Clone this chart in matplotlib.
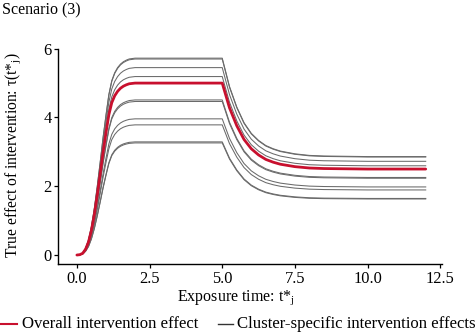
import matplotlib
matplotlib.use("Agg")
import matplotlib.pyplot as plt
from matplotlib.lines import Line2D
import numpy as np

plt.rcParams['font.family'] = ['Liberation Serif', 'DejaVu Serif']
plt.rcParams['mathtext.fontset'] = 'custom'
plt.rcParams['mathtext.rm'] = 'Liberation Serif'
plt.rcParams['mathtext.it'] = 'Liberation Serif:italic'
plt.rcParams['mathtext.default'] = 'regular'

# exposure time and overall intervention effect
exposure_time = [0, 0.1, 0.2, 0.3, 0.4, 0.5, 0.6, 0.7, 0.8, 0.9, 1.0, 1.1, 1.2,
                 1.3, 1.4, 1.5, 1.6, 1.7, 1.8, 2.0, 2.5, 3.0, 4.0, 5.0, 5.25,
                 5.5, 5.75, 6.0, 6.25, 6.5, 6.75, 7.0, 7.5, 8.0, 8.5, 9.0, 10.0,
                 11.0, 12.0]
overall_effect = [0, 0.01, 0.05, 0.17, 0.38, 0.72, 1.18, 1.74, 2.35, 2.98, 3.55,
                  4.08, 4.43, 4.63, 4.76, 4.85, 4.91, 4.95, 4.98, 5.0, 5.0, 5.0,
                  5.0, 5.0, 4.28, 3.76, 3.36, 3.09, 2.91, 2.78, 2.70, 2.64, 2.57,
                  2.53, 2.515, 2.51, 2.50, 2.50, 2.50]
# cluster-specific scale relative to overall effect (plateau level / 5)
cluster_scale = [1.145, 1.140, 1.090, 1.038, 0.902, 0.893, 0.792, 0.757, 0.658, 0.652]

x_ticks = [0.0, 2.5, 5.0, 7.5, 10.0, 12.5]
y_ticks = [0, 2, 4, 6]

W, H = 475, 334
fig = plt.figure(figsize=(W / 100, H / 100), dpi=100)
ax = fig.add_axes([58 / W, 1 - 264.3 / H, (441.7 - 58) / W, (264.3 - 48.7) / H])

t = np.array(exposure_time)
tau = np.array(overall_effect)
for c in cluster_scale:
    ax.plot(t, c * tau, color='#6a6a6a', lw=0.75, zorder=2)
ax.plot(t, tau, color='#C8102E', lw=2.0, zorder=3, solid_capstyle='round')

ax.set_xlim(-0.65, 12.55)
ax.set_ylim(-0.27, 6.0)
ax.set_xticks(x_ticks)
ax.set_xticklabels([f"{v:.1f}" for v in x_ticks])
ax.set_yticks(y_ticks)
ax.set_yticklabels([str(v) for v in y_ticks])
for s in ['top', 'right']:
    ax.spines[s].set_visible(False)
for s in ['left', 'bottom']:
    ax.spines[s].set_linewidth(1.0)
    ax.spines[s].set_color('black')
ax.tick_params(direction='out', length=3, width=0.9, pad=1.5,
               labelsize=11.8, colors='black')

fs = 11.5
fig.text(1.5 / W, 1 - 14 / H, "Scenario (3)", fontsize=fs, va='baseline', ha='left')
fig.text(236 / W, 1 - 301 / H, "Exposure time: t*$_{j}$", fontsize=fs,
         ha='center', va='baseline')
fig.text(13 / W, 1 - 155 / H, "True effect of intervention: τ(t*$_{j}$)",
         fontsize=11.2, rotation=90, ha='center', va='center')

# legend
ly = 1 - 324 / H
fig.add_artist(Line2D([-1 / W, 16.7 / W], [ly, ly], color='#C8102E', lw=1.5,
                      transform=fig.transFigure))
fig.text(22.5 / W, ly, "Overall intervention effect", fontsize=12.1, ha='left', va='center')
fig.add_artist(Line2D([218 / W, 233.3 / W], [ly, ly], color='#333333', lw=1.0,
                      transform=fig.transFigure))
fig.text(236.7 / W, ly, "Cluster-specific intervention effects", fontsize=12.1,
         ha='left', va='center')

fig.savefig("out.png", dpi=100)
